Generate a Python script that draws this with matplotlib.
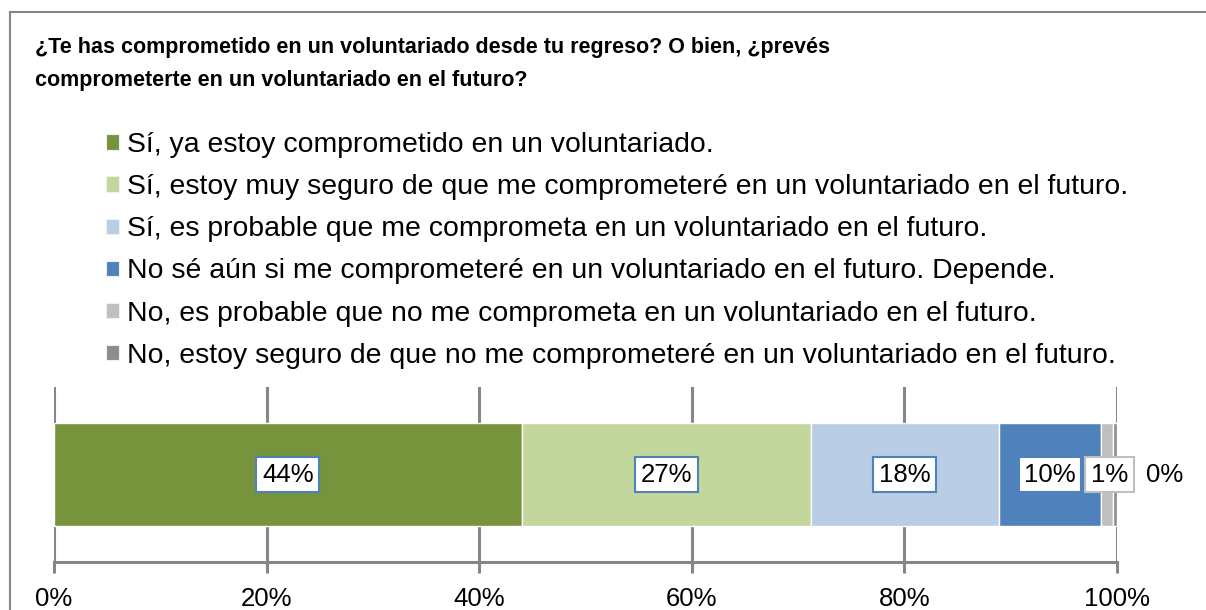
import numpy as np
import matplotlib
matplotlib.use("Agg")
import matplotlib.pyplot as plt
from matplotlib.patches import Patch
from matplotlib.lines import Line2D

plt.rcParams['font.family'] = ['Liberation Sans', 'DejaVu Sans']

# data
categories = [
    "Sí, ya estoy comprometido en un voluntariado.",
    "Sí, estoy muy seguro de que me comprometeré en un voluntariado en el futuro.",
    "Sí, es probable que me comprometa en un voluntariado en el futuro.",
    "No sé aún si me comprometeré en un voluntariado en el futuro. Depende.",
    "No, es probable que no me comprometa en un voluntariado en el futuro.",
    "No, estoy seguro de que no me comprometeré en un voluntariado en el futuro.",
]
values = [44.0, 27.2, 17.7, 9.6, 1.1, 0.4]
value_labels = ["44%", "27%", "18%", "10%", "1%", "0%"]
colors = ["#77933C", "#C3D69B", "#B9CDE5", "#4F81BD", "#BFBFBF", "#8C8C8C"]
tick_vals = [0, 20, 40, 60, 80, 100]
tick_labels = ["0%", "20%", "40%", "60%", "80%", "100%"]
title = ("¿Te has comprometido en un voluntariado desde tu regreso? O bien, ¿prevés\n"
         "comprometerte en un voluntariado en el futuro?")

W, H = 1206, 610
fig = plt.figure(figsize=(W / 100, H / 100), dpi=100)
grid_col = "#868686"

# outer frame (right and bottom edges fall outside the picture)
fig.add_artist(Line2D([10 / W, 10 / W], [0, 1 - 12 / H], transform=fig.transFigure, color=grid_col, lw=1.5))
fig.add_artist(Line2D([10 / W, 1], [1 - 12 / H, 1 - 12 / H], transform=fig.transFigure, color=grid_col, lw=1.5))

fig.text(35 / W, 1 - 64 / H, title, ha="left", va="center", fontsize=15.5, fontweight="bold",
         linespacing=1.75)

ax = fig.add_axes([54 / W, 1 - 562 / H, (1117 - 54) / W, (562 - 387) / H])
ax.set_xlim(0, 100)
ax.set_ylim(-0.5, 0.5)

left = 0.0
for v, c, lab in zip(values, colors, categories):
    ax.barh(0, v, left=left, height=0.59, color=c, edgecolor="white", linewidth=1, label=lab, zorder=3)
    left += v

# data labels
lefts = np.cumsum([0] + values[:-1])
centers = lefts + np.array(values) / 2
for i, (cx, lab) in enumerate(zip(centers, value_labels)):
    if i < 4:
        ax.annotate(lab, (cx, 0), ha="center", va="center", fontsize=18.5, zorder=5,
                    bbox=dict(boxstyle="square,pad=0.22", fc="white", ec="#4F81BD", lw=1.5))
    elif i == 4:
        ax.annotate(lab, (cx, 0), xytext=(2, 0), textcoords="offset points", ha="center", va="center",
                    fontsize=18.5, zorder=5,
                    bbox=dict(boxstyle="square,pad=0.22", fc="white", ec="#BFBFBF", lw=1.5))
    else:
        ax.annotate(lab, (cx, 0), xytext=(36, 0), textcoords="offset points", ha="center", va="center",
                    fontsize=18.5, zorder=5)

ax.set_xticks(tick_vals)
ax.set_xticklabels(tick_labels, fontsize=18.5)
ax.set_yticks([])
ax.grid(axis="x", color=grid_col, lw=2.2, zorder=0)
for s in ["top", "right", "left"]:
    ax.spines[s].set_visible(False)
ax.spines["bottom"].set_color(grid_col)
ax.spines["bottom"].set_linewidth(2.2)
ax.tick_params(axis="x", length=8, width=2.2, color=grid_col, pad=10)

handles = [Patch(facecolor=c, edgecolor="#F0F0F0", lw=0.8) for c in colors]
fig.legend(handles, categories, loc="upper left", bbox_to_anchor=(106 / W, 1 - 132 / H),
           frameon=False, fontsize=20.4, handlelength=0.45, handleheight=0.45, handletextpad=0.3,
           labelspacing=0.57, borderpad=0, borderaxespad=0)

fig.savefig("out.png", dpi=100)
